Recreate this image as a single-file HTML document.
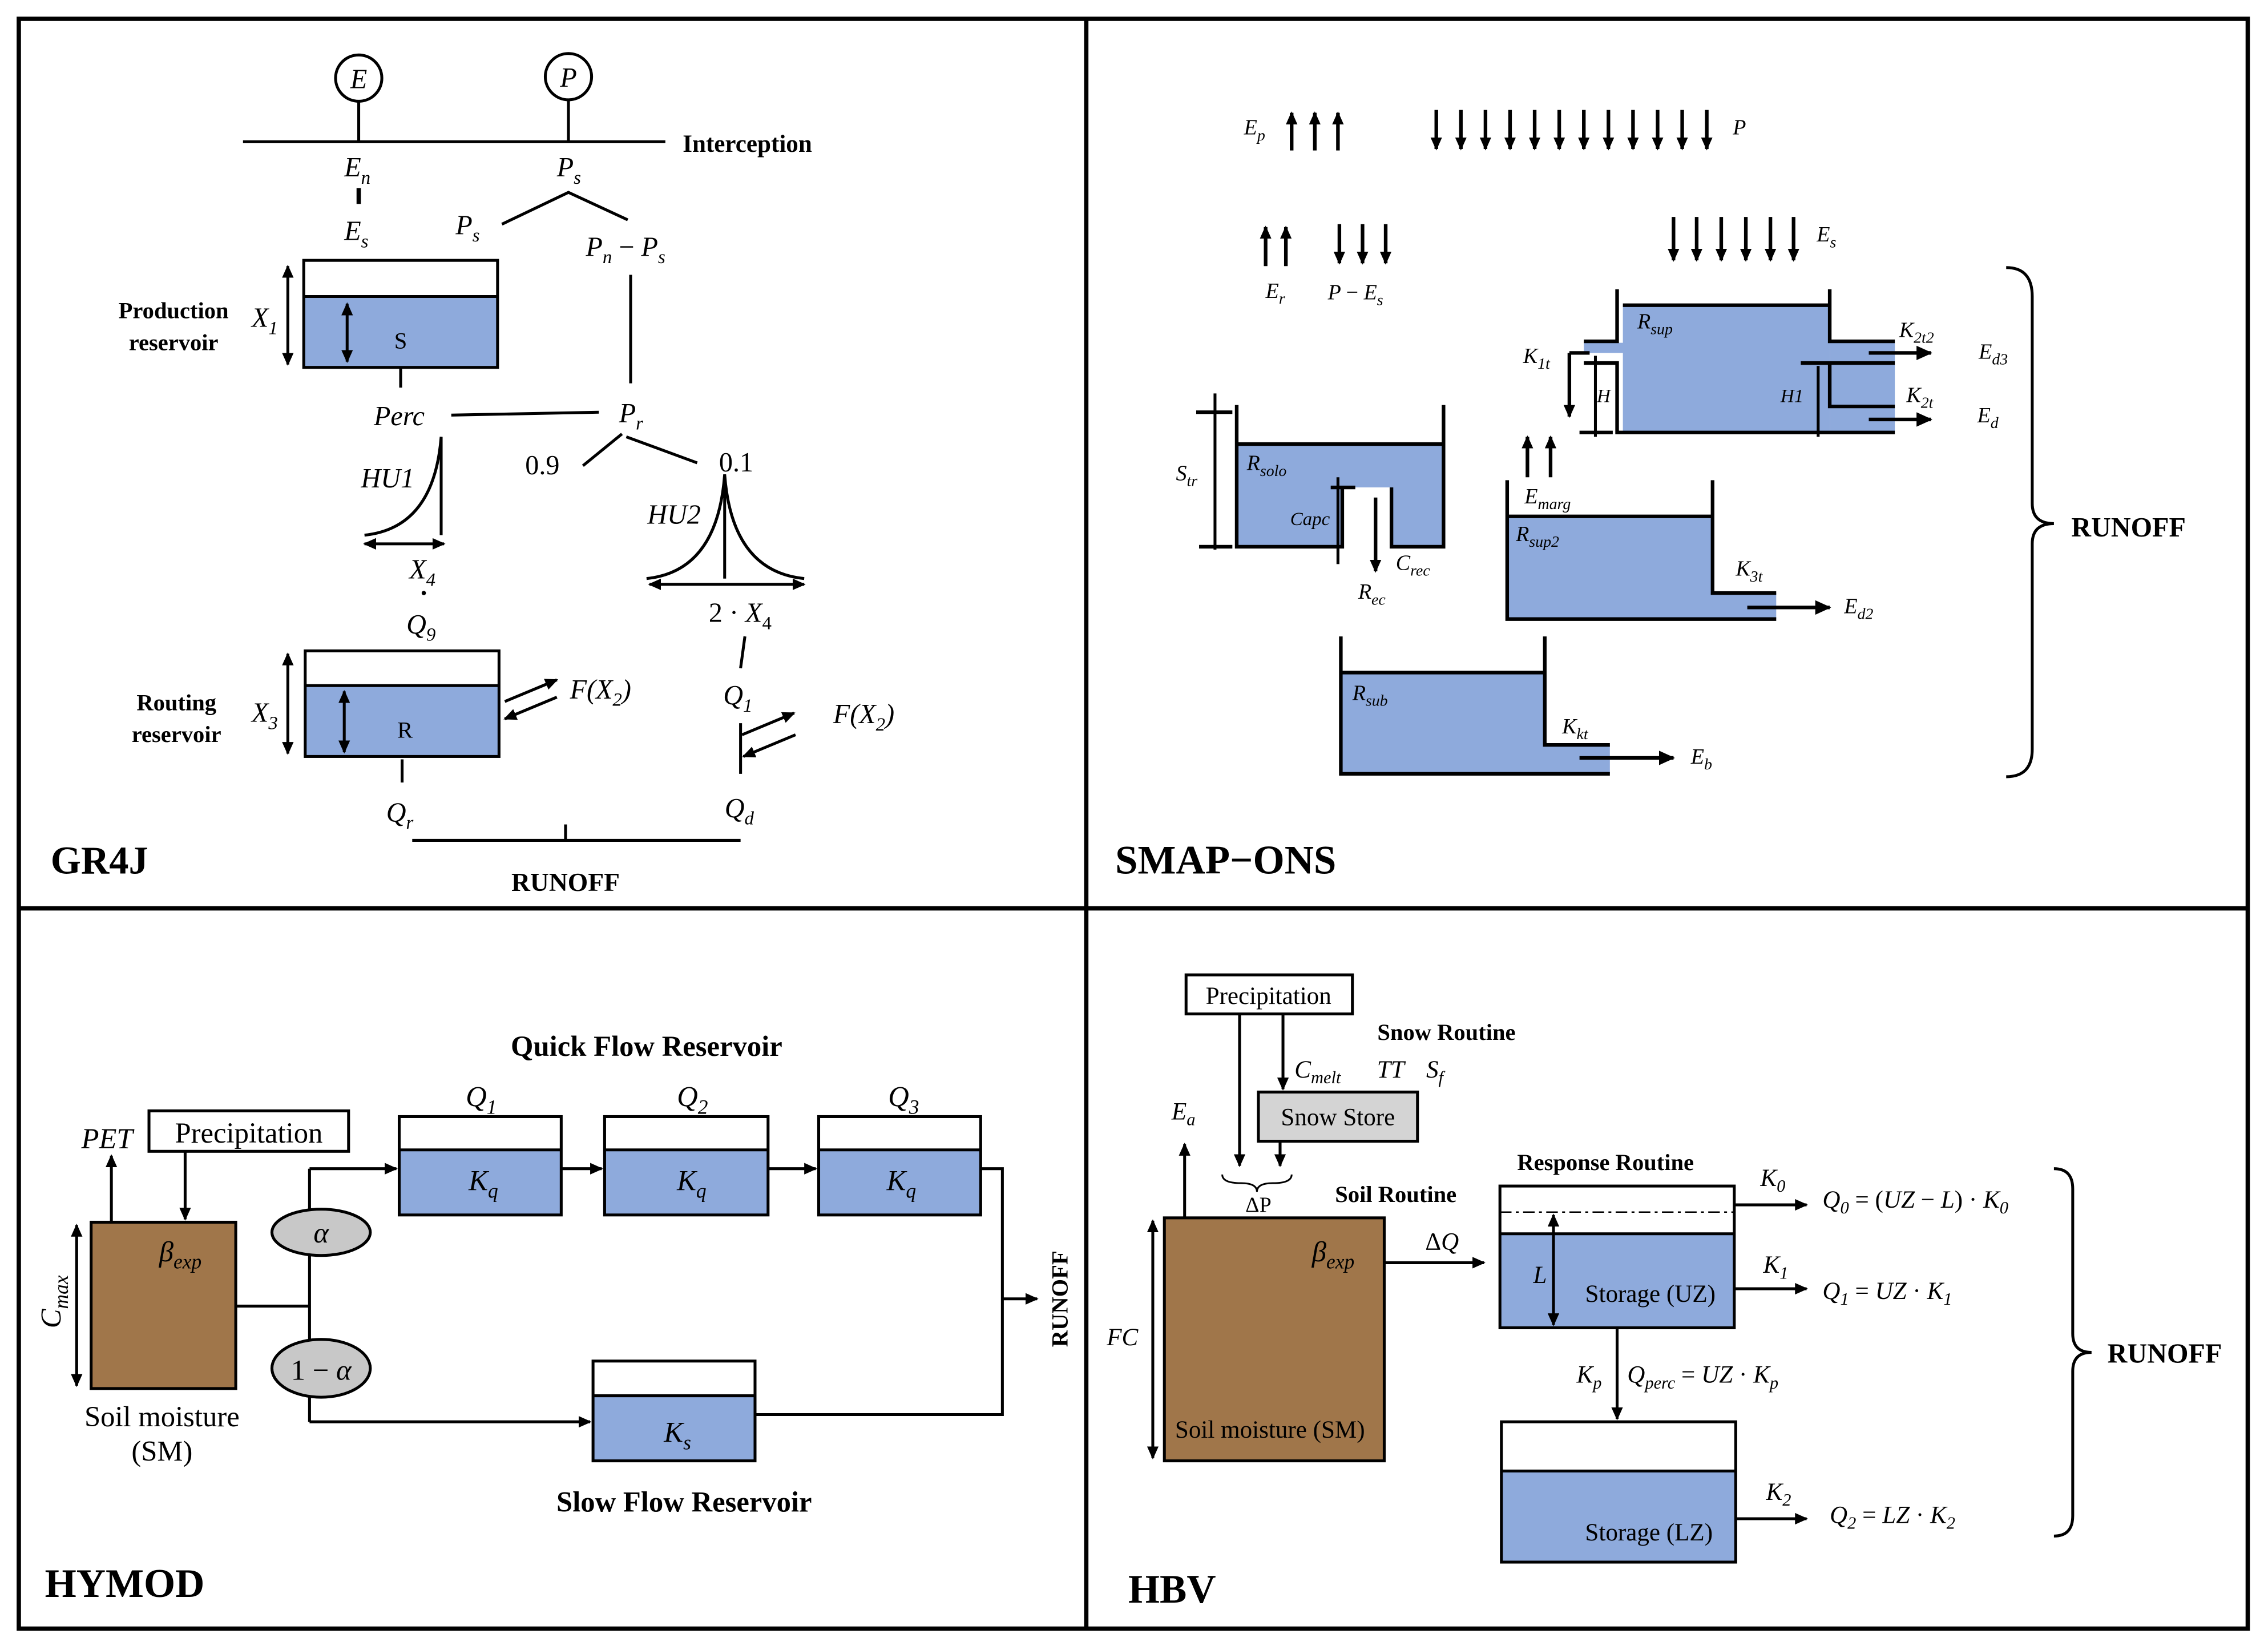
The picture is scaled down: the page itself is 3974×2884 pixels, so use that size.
<!DOCTYPE html>
<html><head><meta charset="utf-8"><style>
html,body{margin:0;padding:0;background:#fff}
svg{display:block}
text{font-family:"Liberation Serif",serif;fill:#000}
.i{font-style:italic}
.b{font-weight:bold}
</style></head><body>
<svg width="3974" height="2884" viewBox="0 0 1568 1138" preserveAspectRatio="none" xmlns="http://www.w3.org/2000/svg">
<defs>
<marker id="a" markerUnits="userSpaceOnUse" markerWidth="12" markerHeight="12" refX="10" refY="5" orient="auto"><path d="M0,0 L11,5 L0,10 z" fill="#000"/></marker>
<marker id="as" markerUnits="userSpaceOnUse" markerWidth="10" markerHeight="10" refX="8" refY="4" orient="auto-start-reverse"><path d="M0,0 L9,4 L0,8 z" fill="#000"/></marker>
</defs>
<g stroke="#000" fill="none">
<rect x="13" y="13" width="1541" height="1113" stroke-width="3"/>
<line x1="751" y1="13" x2="751" y2="1126" stroke-width="3"/>
<line x1="13" y1="628" x2="1554" y2="628" stroke-width="3"/>
</g>

<!-- GR4J -->
<g stroke="#000" stroke-width="2" fill="none">
<circle cx="248" cy="54" r="16"/><circle cx="393" cy="53" r="16"/>
<line x1="248" y1="70" x2="248" y2="98"/><line x1="393" y1="69" x2="393" y2="98"/>
<line x1="168" y1="98" x2="460" y2="98"/>
<line x1="248" y1="130" x2="248" y2="141" stroke-width="3"/>
<polyline points="347,155 393,133 434,152"/>
<line x1="436" y1="190" x2="436" y2="265"/>
<rect x="210" y="205" width="134" height="49" fill="#8eaadc" stroke="none"/>
<rect x="210" y="180" width="134" height="74"/>
<line x1="210" y1="205" x2="344" y2="205"/>
<line x1="240" y1="210" x2="240" y2="250" marker-start="url(#as)" marker-end="url(#as)"/>
<line x1="199" y1="184" x2="199" y2="252" marker-start="url(#as)" marker-end="url(#as)"/>
<line x1="277" y1="254" x2="277" y2="268"/>
<line x1="312" y1="287" x2="414" y2="285"/>
<line x1="430" y1="300" x2="403" y2="322"/><line x1="433" y1="302" x2="482" y2="320"/>
<path d="M252,370 Q300,365 305,302 L305,370"/>
<line x1="252" y1="376" x2="307" y2="376" marker-start="url(#as)" marker-end="url(#as)"/>
<path d="M447,400 Q496,395 501,328 Q506,395 556,400 M501,328 L501,400"/>
<line x1="449" y1="404" x2="556" y2="404" marker-start="url(#as)" marker-end="url(#as)"/>
<rect x="211" y="474" width="134" height="49" fill="#8eaadc" stroke="none"/>
<rect x="211" y="450" width="134" height="73"/>
<line x1="211" y1="474" x2="345" y2="474"/>
<line x1="238" y1="478" x2="238" y2="520" marker-start="url(#as)" marker-end="url(#as)"/>
<line x1="199" y1="452" x2="199" y2="521" marker-start="url(#as)" marker-end="url(#as)"/>
<line x1="349" y1="485" x2="385" y2="470" marker-end="url(#as)"/>
<line x1="385" y1="482" x2="349" y2="497" marker-end="url(#as)"/>
<line x1="278" y1="525" x2="278" y2="541"/>
<line x1="515" y1="440" x2="512" y2="462"/>
<line x1="512" y1="500" x2="512" y2="535"/>
<line x1="513" y1="508" x2="549" y2="493" marker-end="url(#as)"/>
<line x1="550" y1="508" x2="514" y2="523" marker-end="url(#as)"/>
<line x1="285" y1="581" x2="512" y2="581"/>
<line x1="391" y1="570" x2="391" y2="581"/>
</g>
<circle cx="293" cy="410" r="1.5"/>
<g font-size="19">
<text x="248" y="61" text-anchor="middle" class="i">E</text>
<text x="393" y="60" text-anchor="middle" class="i">P</text>
<text x="472" y="105" class="b" font-size="17">Interception</text>
<text x="238" y="122" class="i">E<tspan font-size="13" dy="5">n</tspan></text>
<text x="238" y="166" class="i">E<tspan font-size="13" dy="5">s</tspan></text>
<text x="385" y="122" class="i">P<tspan font-size="13" dy="5">s</tspan></text>
<text x="315" y="162" class="i">P<tspan font-size="13" dy="5">s</tspan></text>
<text x="405" y="177" class="i">P<tspan font-size="13" dy="5">n</tspan><tspan dy="-5" font-style="normal"> − </tspan>P<tspan font-size="13" dy="5">s</tspan></text>
<text x="120" y="220" text-anchor="middle" class="b" font-size="16">Production</text>
<text x="120" y="242" text-anchor="middle" class="b" font-size="16">reservoir</text>
<text x="174" y="226" class="i">X<tspan font-size="13" dy="5">1</tspan></text>
<text x="277" y="241" text-anchor="middle" font-size="16">S</text>
<text x="276" y="294" text-anchor="middle" class="i">Perc</text>
<text x="428" y="292" class="i">P<tspan font-size="13" dy="5">r</tspan></text>
<text x="375" y="328" text-anchor="middle">0.9</text>
<text x="509" y="326" text-anchor="middle">0.1</text>
<text x="268" y="337" text-anchor="middle" class="i">HU1</text>
<text x="466" y="362" text-anchor="middle" class="i">HU2</text>
<text x="283" y="400" class="i">X<tspan font-size="13" dy="5">4</tspan></text>
<text x="281" y="438" class="i">Q<tspan font-size="13" dy="5">9</tspan></text>
<text x="490" y="430">2 · <tspan class="i">X</tspan><tspan font-size="13" dy="5">4</tspan></text>
<text x="122" y="491" text-anchor="middle" class="b" font-size="16">Routing</text>
<text x="122" y="513" text-anchor="middle" class="b" font-size="16">reservoir</text>
<text x="174" y="499" class="i">X<tspan font-size="13" dy="5">3</tspan></text>
<text x="280" y="510" text-anchor="middle" font-size="16">R</text>
<text x="394" y="483" class="i">F(X<tspan font-size="13" dy="5">2</tspan><tspan dy="-5">)</tspan></text>
<text x="576" y="500" class="i">F(X<tspan font-size="13" dy="5">2</tspan><tspan dy="-5">)</tspan></text>
<text x="500" y="487" class="i">Q<tspan font-size="13" dy="5">1</tspan></text>
<text x="267" y="568" class="i">Q<tspan font-size="13" dy="5">r</tspan></text>
<text x="501" y="565" class="i">Q<tspan font-size="13" dy="5">d</tspan></text>
<text x="391" y="616" text-anchor="middle" class="b" font-size="18">RUNOFF</text>
<text x="35" y="604" class="b" font-size="27">GR4J</text>
</g>

<!-- SMAP-ONS -->
<g stroke="#000" stroke-width="2.5" fill="none">
<g marker-end="url(#as)">
<line x1="893" y1="104" x2="893" y2="78"/><line x1="909" y1="104" x2="909" y2="78"/><line x1="925" y1="104" x2="925" y2="78"/>
<line x1="993" y1="76" x2="993" y2="103"/><line x1="1010" y1="76" x2="1010" y2="103"/><line x1="1027" y1="76" x2="1027" y2="103"/><line x1="1044" y1="76" x2="1044" y2="103"/><line x1="1061" y1="76" x2="1061" y2="103"/><line x1="1078" y1="76" x2="1078" y2="103"/><line x1="1095" y1="76" x2="1095" y2="103"/><line x1="1112" y1="76" x2="1112" y2="103"/><line x1="1129" y1="76" x2="1129" y2="103"/><line x1="1146" y1="76" x2="1146" y2="103"/><line x1="1163" y1="76" x2="1163" y2="103"/><line x1="1180" y1="76" x2="1180" y2="103"/>
<line x1="875" y1="184" x2="875" y2="157"/><line x1="889" y1="184" x2="889" y2="157"/>
<line x1="926" y1="155" x2="926" y2="182"/><line x1="942" y1="155" x2="942" y2="182"/><line x1="958" y1="155" x2="958" y2="182"/>
<line x1="1157" y1="150" x2="1157" y2="180"/><line x1="1173" y1="150" x2="1173" y2="180"/><line x1="1190" y1="150" x2="1190" y2="180"/><line x1="1207" y1="150" x2="1207" y2="180"/><line x1="1224" y1="150" x2="1224" y2="180"/><line x1="1240" y1="150" x2="1240" y2="180"/>
<line x1="1056" y1="330" x2="1056" y2="302"/><line x1="1072" y1="330" x2="1072" y2="302"/>
</g>
<path d="M1122,211 H1265 V251 H1310 V281 H1265 V299 H1310 V299 H1122 V244 H1095 V237 H1122 z" fill="#8eaadc" stroke="none"/>
<path d="M1265,281 H1310 V299 H1265 z M1265,237 H1310 V251 H1265 z" fill="#8eaadc" stroke="none"/>
<path d="M1118,200 V236 H1095 M1122,211 H1265 M1265,200 V236 H1310 M1095,251 H1118 V299 H1310 M1245,251 H1310 M1265,251 V281 H1310"/>
<line x1="1085" y1="244" x2="1099" y2="244"/>
<line x1="1085" y1="244" x2="1085" y2="288" marker-end="url(#as)"/>
<line x1="1103" y1="246" x2="1103" y2="302" stroke-width="2"/>
<line x1="1092" y1="299" x2="1115" y2="299"/>
<line x1="1257" y1="253" x2="1257" y2="302" stroke-width="2"/>
<line x1="1292" y1="244" x2="1335" y2="244" marker-end="url(#a)"/>
<line x1="1292" y1="290" x2="1335" y2="290" marker-end="url(#a)"/>
<path d="M855,307 H998 V378 H962 V337 H928 V378 H855 z" fill="#8eaadc" stroke="none"/>
<path d="M855,280 V378 H928 V337 M962,337 V378 H998 V280 M855,307 H998"/>
<line x1="840" y1="272" x2="840" y2="380" stroke-width="2"/>
<line x1="827" y1="285" x2="852" y2="285"/><line x1="829" y1="378" x2="852" y2="378"/>
<line x1="920" y1="337" x2="937" y2="337"/><line x1="925" y1="330" x2="925" y2="390" stroke-width="2"/>
<line x1="951" y1="344" x2="951" y2="395" marker-end="url(#as)"/>
<path d="M1042,357 H1184 V410 H1228 V428 H1042 z" fill="#8eaadc" stroke="none"/>
<path d="M1042,332 V428 H1228 M1042,357 H1184 M1184,332 V410 H1228"/>
<line x1="1208" y1="420" x2="1265" y2="420" marker-end="url(#a)"/>
<path d="M927,465 H1068 V515 H1113 V535 H927 z" fill="#8eaadc" stroke="none"/>
<path d="M927,440 V535 H1113 M927,465 H1068 M1068,440 V515 H1113"/>
<line x1="1092" y1="524" x2="1157" y2="524" marker-end="url(#a)"/>
<path d="M1387,185 Q1405,185 1405,205 V348 Q1405,362 1420,362 Q1405,362 1405,376 V518 Q1405,537 1387,537" stroke-width="2"/>
</g>
<g font-size="15" class="i">
<text x="860" y="93">E<tspan font-size="11" dy="4">p</tspan></text>
<text x="1198" y="93">P</text>
<text x="875" y="206">E<tspan font-size="11" dy="4">r</tspan></text>
<text x="918" y="207">P <tspan font-style="normal">−</tspan> E<tspan font-size="11" dy="4">s</tspan></text>
<text x="1256" y="167">E<tspan font-size="11" dy="4">s</tspan></text>
<text x="1132" y="227">R<tspan font-size="11" dy="4">sup</tspan></text>
<text x="1053" y="251">K<tspan font-size="11" dy="4">1t</tspan></text>
<text x="1104" y="278" font-size="13">H</text>
<text x="1231" y="278" font-size="13">H1</text>
<text x="1313" y="233">K<tspan font-size="11" dy="4">2t2</tspan></text>
<text x="1368" y="248">E<tspan font-size="11" dy="4">d3</tspan></text>
<text x="1318" y="278">K<tspan font-size="11" dy="4">2t</tspan></text>
<text x="1367" y="292">E<tspan font-size="11" dy="4">d</tspan></text>
<text x="813" y="332">S<tspan font-size="11" dy="4">tr</tspan></text>
<text x="862" y="325">R<tspan font-size="11" dy="4">solo</tspan></text>
<text x="892" y="363" font-size="13">Capc</text>
<text x="965" y="394">C<tspan font-size="11" dy="4">rec</tspan></text>
<text x="939" y="414">R<tspan font-size="11" dy="4">ec</tspan></text>
<text x="1054" y="348">E<tspan font-size="11" dy="4">marg</tspan></text>
<text x="1048" y="374">R<tspan font-size="11" dy="4">sup2</tspan></text>
<text x="1200" y="398">K<tspan font-size="11" dy="4">3t</tspan></text>
<text x="1275" y="424">E<tspan font-size="11" dy="4">d2</tspan></text>
<text x="935" y="484">R<tspan font-size="11" dy="4">sub</tspan></text>
<text x="1080" y="507">K<tspan font-size="11" dy="4">kt</tspan></text>
<text x="1169" y="528">E<tspan font-size="11" dy="4">b</tspan></text>
</g>
<text x="1432" y="371" class="b" font-size="19">RUNOFF</text>
<text x="771" y="604" class="b" font-size="28">SMAP−ONS</text>

<!-- HYMOD -->
<g stroke="#000" stroke-width="2" fill="none">
<rect x="276" y="795" width="112" height="45" fill="#8eaadc" stroke="none"/>
<rect x="418" y="795" width="113" height="45" fill="#8eaadc" stroke="none"/>
<rect x="566" y="795" width="112" height="45" fill="#8eaadc" stroke="none"/>
<rect x="410" y="965" width="112" height="45" fill="#8eaadc" stroke="none"/>
<rect x="276" y="772" width="112" height="68"/><line x1="276" y1="795" x2="388" y2="795"/>
<rect x="418" y="772" width="113" height="68"/><line x1="418" y1="795" x2="531" y2="795"/>
<rect x="566" y="772" width="112" height="68"/><line x1="566" y1="795" x2="678" y2="795"/>
<rect x="410" y="941" width="112" height="69"/><line x1="410" y1="965" x2="522" y2="965"/>
<rect x="63" y="845" width="100" height="115" fill="#a0764a"/>
<rect x="103" y="768" width="138" height="28"/>
<line x1="128" y1="796" x2="128" y2="843" marker-end="url(#as)"/>
<line x1="77" y1="845" x2="77" y2="799" marker-end="url(#as)"/>
<line x1="53" y1="847" x2="53" y2="958" marker-start="url(#as)" marker-end="url(#as)"/>
<line x1="163" y1="903" x2="214" y2="903"/>
<line x1="214" y1="808" x2="214" y2="983"/>
<line x1="214" y1="808" x2="274" y2="808" marker-end="url(#as)"/>
<line x1="388" y1="808" x2="416" y2="808" marker-end="url(#as)"/>
<line x1="531" y1="808" x2="564" y2="808" marker-end="url(#as)"/>
<line x1="214" y1="983" x2="408" y2="983" marker-end="url(#as)"/>
<ellipse cx="222" cy="852" rx="34" ry="16" fill="#c8c8c8"/>
<ellipse cx="222" cy="946" rx="34" ry="20" fill="#c8c8c8"/>
<polyline points="678,808 693,808 693,978 522,978"/>
<line x1="693" y1="898" x2="717" y2="898" marker-end="url(#as)"/>
</g>
<g font-size="20">
<text x="447" y="730" text-anchor="middle" class="b">Quick Flow Reservoir</text>
<text x="322" y="765" class="i">Q<tspan font-size="14" dy="5">1</tspan></text>
<text x="468" y="765" class="i">Q<tspan font-size="14" dy="5">2</tspan></text>
<text x="614" y="765" class="i">Q<tspan font-size="14" dy="5">3</tspan></text>
<text x="324" y="823" class="i">K<tspan font-size="14" dy="5">q</tspan></text>
<text x="468" y="823" class="i">K<tspan font-size="14" dy="5">q</tspan></text>
<text x="613" y="823" class="i">K<tspan font-size="14" dy="5">q</tspan></text>
<text x="459" y="997" class="i">K<tspan font-size="14" dy="5">s</tspan></text>
<text x="172" y="790" text-anchor="middle">Precipitation</text>
<text x="74" y="794" text-anchor="middle" class="i">PET</text>
<text x="110" y="872" class="i">β<tspan font-size="14" dy="5">exp</tspan></text>
<text x="112" y="986" text-anchor="middle">Soil moisture</text>
<text x="112" y="1010" text-anchor="middle">(SM)</text>
<text transform="translate(42,900) rotate(-90)" text-anchor="middle" class="i">C<tspan font-size="14" dy="5">max</tspan></text>
<text x="222" y="859" text-anchor="middle" class="i">α</text>
<text x="222" y="954" text-anchor="middle">1 − <tspan class="i">α</tspan></text>
<text x="473" y="1045" text-anchor="middle" class="b">Slow Flow Reservoir</text>
<text transform="translate(738,898) rotate(-90)" text-anchor="middle" class="b" font-size="16">RUNOFF</text>
<text x="31" y="1104" class="b" font-size="28">HYMOD</text>
</g>

<!-- HBV -->
<g stroke="#000" stroke-width="2" fill="none">
<rect x="820" y="674" width="115" height="27"/>
<rect x="870" y="755" width="110" height="34" fill="#d4d4d4"/>
<line x1="887" y1="701" x2="887" y2="753" marker-end="url(#as)"/>
<line x1="857" y1="701" x2="857" y2="806" marker-end="url(#as)"/>
<line x1="885" y1="789" x2="885" y2="806" marker-end="url(#as)"/>
<path d="M845,812 Q845,818 858,818 Q869,818 869,824 Q869,818 880,818 Q893,818 893,812" stroke-width="1.2"/>
<line x1="819" y1="842" x2="819" y2="791" marker-end="url(#as)"/>
<rect x="805" y="842" width="152" height="168" fill="#a0764a"/>
<line x1="797" y1="844" x2="797" y2="1008" marker-start="url(#as)" marker-end="url(#as)"/>
<line x1="957" y1="873" x2="1026" y2="873" marker-end="url(#as)"/>
<rect x="1037" y="853" width="162" height="65" fill="#8eaadc" stroke="none"/>
<rect x="1037" y="820" width="162" height="98"/>
<line x1="1037" y1="853" x2="1199" y2="853"/>
<line x1="1037" y1="838" x2="1199" y2="838" stroke-width="1" stroke-dasharray="8,3,2,3"/>
<line x1="1074" y1="840" x2="1074" y2="916" marker-start="url(#as)" marker-end="url(#as)"/>
<line x1="1199" y1="833" x2="1249" y2="833" marker-end="url(#as)"/>
<line x1="1199" y1="891" x2="1249" y2="891" marker-end="url(#as)"/>
<line x1="1118" y1="918" x2="1118" y2="981" marker-end="url(#as)"/>
<rect x="1038" y="1017" width="162" height="63" fill="#8eaadc" stroke="none"/>
<rect x="1038" y="983" width="162" height="97"/>
<line x1="1038" y1="1017" x2="1200" y2="1017"/>
<line x1="1200" y1="1050" x2="1249" y2="1050" marker-end="url(#as)"/>
<path d="M1420,808 Q1433,808 1433,822 V922 Q1433,935 1446,935 Q1433,935 1433,948 V1048 Q1433,1062 1420,1062"/>
</g>
<g font-size="17">
<text x="877" y="694" text-anchor="middle">Precipitation</text>
<text x="1000" y="719" text-anchor="middle" class="b" font-size="16">Snow Routine</text>
<text x="895" y="745" class="i">C<tspan font-size="12" dy="4">melt</tspan></text>
<text x="952" y="745" class="i">TT</text>
<text x="986" y="745" class="i">S<tspan font-size="12" dy="4">f</tspan></text>
<text x="925" y="778" text-anchor="middle">Snow Store</text>
<text x="810" y="774" class="i">E<tspan font-size="12" dy="4">a</tspan></text>
<text x="870" y="838" text-anchor="middle" font-size="15">ΔP</text>
<text x="965" y="831" text-anchor="middle" class="b" font-size="16">Soil Routine</text>
<text x="907" y="872" class="i" font-size="20">β<tspan font-size="14" dy="5">exp</tspan></text>
<text x="878" y="994" text-anchor="middle">Soil moisture (SM)</text>
<text x="776" y="930" text-anchor="middle" class="i">FC</text>
<text x="997" y="864" text-anchor="middle">Δ<tspan class="i">Q</tspan></text>
<text x="1110" y="809" text-anchor="middle" class="b" font-size="16">Response Routine</text>
<text x="1060" y="887" class="i">L</text>
<text x="1141" y="900" text-anchor="middle">Storage (UZ)</text>
<text x="1217" y="820" class="i">K<tspan font-size="12" dy="4">0</tspan></text>
<text x="1260" y="835" class="i">Q<tspan font-size="12" dy="4">0</tspan><tspan dy="-4" font-style="normal"> = (</tspan>UZ <tspan font-style="normal">−</tspan> L<tspan font-style="normal">) · </tspan>K<tspan font-size="12" dy="4">0</tspan></text>
<text x="1219" y="880" class="i">K<tspan font-size="12" dy="4">1</tspan></text>
<text x="1260" y="898" class="i">Q<tspan font-size="12" dy="4">1</tspan><tspan dy="-4" font-style="normal"> = </tspan>UZ <tspan font-style="normal"> · </tspan>K<tspan font-size="12" dy="4">1</tspan></text>
<text x="1090" y="956" class="i">K<tspan font-size="12" dy="4">p</tspan></text>
<text x="1125" y="956" class="i">Q<tspan font-size="12" dy="4">perc</tspan><tspan dy="-4" font-style="normal"> = </tspan>UZ <tspan font-style="normal"> · </tspan>K<tspan font-size="12" dy="4">p</tspan></text>
<text x="1140" y="1065" text-anchor="middle">Storage (LZ)</text>
<text x="1221" y="1037" class="i">K<tspan font-size="12" dy="4">2</tspan></text>
<text x="1265" y="1053" class="i">Q<tspan font-size="12" dy="4">2</tspan><tspan dy="-4" font-style="normal"> = </tspan>LZ <tspan font-style="normal"> · </tspan>K<tspan font-size="12" dy="4">2</tspan></text>
<text x="1457" y="942" class="b" font-size="19">RUNOFF</text>
<text x="780" y="1108" class="b" font-size="28">HBV</text>
</g>
</svg>
</body></html>
